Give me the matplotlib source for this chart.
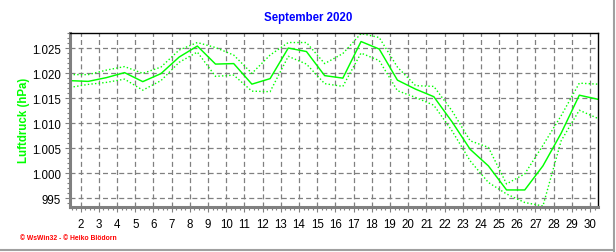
import matplotlib
matplotlib.use("Agg")
import matplotlib.pyplot as plt
from matplotlib.lines import Line2D
from matplotlib.ticker import MultipleLocator, FixedLocator, FuncFormatter

# ---- data (hPa), one value per day of September 2020 ----
days = list(range(1, 31))
p_mean = [1018.5, 1018.35, 1019.1, 1020.1, 1018.3, 1019.9, 1023.2, 1025.4, 1021.8, 1021.9,
          1017.8, 1018.9, 1025.0, 1024.3, 1019.5, 1019.0, 1026.3, 1024.8, 1018.6, 1016.8,
          1015.3, 1010.3, 1004.8, 1001.5, 996.7, 996.7, 1001.5, 1008.0, 1015.6, 1014.8]
p_max = [1019.7, 1019.7, 1020.6, 1021.3, 1019.95, 1021.2, 1024.6, 1026.1, 1025.1, 1023.6,
         1019.95, 1023.6, 1026.1, 1026.1, 1021.9, 1023.9, 1027.9, 1027.1, 1021.2, 1017.5,
         1017.35, 1012.5, 1006.5, 1005.2, 997.9, 999.9, 1005.6, 1011.5, 1018.0, 1017.8]
p_min = [1017.15, 1017.75, 1018.15, 1018.8, 1016.6, 1018.5, 1022.15, 1024.2, 1019.35, 1019.6,
         1016.4, 1016.3, 1023.35, 1021.8, 1017.9, 1017.35, 1024.0, 1022.5, 1016.5, 1015.15,
         1013.6, 1008.5, 1002.5, 998.2, 995.9, 994.2, 993.5, 1006.5, 1012.6, 1011.0]
x_ticks = list(range(2, 31))
y_ticks = [995, 1000, 1005, 1010, 1015, 1020, 1025]

title = "September 2020"
ylabel = "Luftdruck (hPa)"
footer = "\u00a9 WsWin32 - \u00a9 Heiko Bl\u00f6dorn"

plt.rcParams['font.family'] = ['Liberation Sans', 'DejaVu Sans']

W, H = 616, 253
fig = plt.figure(figsize=(W / 100, H / 100), dpi=100)
fig.patch.set_facecolor('white')

l, r, t, b = 70, 597.5, 33.5, 207.5
ax = fig.add_axes([l / W, 1 - b / H, (r - l) / W, (b - t) / H])

offset = 0.41
xs = [d + offset for d in days]
green = '#00FF00'
ax.plot(xs, p_max, color=green, lw=1.0, linestyle=(0, (1, 1.6)))
ax.plot(xs, p_min, color=green, lw=1.0, linestyle=(0, (1, 1.6)))
ax.plot(xs, p_mean, color=green, lw=1.05)

ax.set_xlim(xs[0], xs[-1])
ax.set_ylim(993.4, 1028.1)

ax.xaxis.set_major_locator(FixedLocator(x_ticks))
ax.xaxis.set_minor_locator(MultipleLocator(0.25))
ax.yaxis.set_major_locator(FixedLocator(y_ticks))
ax.yaxis.set_minor_locator(MultipleLocator(1))
ax.yaxis.set_major_formatter(FuncFormatter(lambda v, p: f"{v/1000:.3f}" if v >= 1000 else f"{int(v)}"))

ax.grid(True, which='major', color='#808080', linestyle=(0, (4, 2.5)), linewidth=0.9)
ax.set_axisbelow(True)

for s in ['top', 'right']:
    ax.spines[s].set_color('black')
    ax.spines[s].set_linewidth(1.0)
for s in ['left', 'bottom']:
    ax.spines[s].set_color('#808080')
    ax.spines[s].set_linewidth(2.2)

ax.tick_params(axis='both', which='major', direction='out', length=3.5, width=0.8,
               color='#808080', labelsize=8.3, labelcolor='black', pad=3)
ax.tick_params(axis='both', which='minor', direction='out', length=2, width=0.8, color='#808080')
ax.tick_params(axis='x', which='major', pad=5)

ax.set_ylabel(ylabel, color=green, fontweight='bold', fontsize=8.3)
ax.yaxis.set_label_coords((30 - l) / (r - l), 0.5)
fig.text(308 / W, 1 - 18 / H, title, color='#0000FF', fontweight='bold', fontsize=8.3,
         ha='center', va='center')
fig.text(20 / W, 1 - 239 / H, footer, color='#FF0000', fontsize=4.9, fontweight='bold',
         ha='left', va='center')

# grey window frame right and bottom
fig.add_artist(Line2D([613.5 / W, 613.5 / W], [0, 1], color='#A0A0A0', lw=1.5,
                      transform=fig.transFigure))
fig.add_artist(Line2D([0, 614 / W], [1 - 250.5 / H, 1 - 250.5 / H], color='#A0A0A0', lw=1.5,
                      transform=fig.transFigure))

fig.savefig('out.png', dpi=100, facecolor='white')
